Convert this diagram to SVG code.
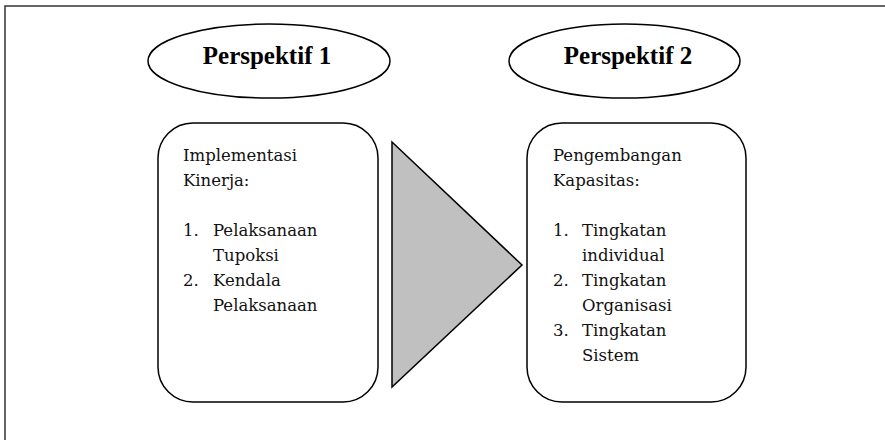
<svg xmlns="http://www.w3.org/2000/svg" width="885" height="440" viewBox="0 0 885 440">
  <style>
    .shape { fill: #ffffff; stroke: #000000; stroke-width: 1.5; }
    .frame { fill: none; stroke: #333333; stroke-width: 1.5; }
    .title { font-family: "Liberation Serif", "Times New Roman", serif; font-weight: bold; font-size: 25px; fill: #000000; text-anchor: middle; }
    .body { font-family: "DejaVu Serif", "Liberation Serif", serif; font-size: 16.5px; fill: #111111; }
    .arrow { fill: #c0c0c0; stroke: #000000; stroke-width: 1.5; stroke-linejoin: miter; }
  </style>
  <rect x="0" y="0" width="885" height="440" fill="#ffffff"/>
  <path class="frame" d="M5,440 L5,6 L885,6"/>

  <g id="perspektif1">
    <ellipse class="shape" cx="269" cy="61" rx="121" ry="37"/>
    <text class="title" x="267" y="64">Perspektif 1</text>
  </g>

  <g id="perspektif2">
    <ellipse class="shape" cx="624.5" cy="61" rx="115.5" ry="37"/>
    <text class="title" x="628" y="64">Perspektif 2</text>
  </g>

  <g id="implementasi">
    <rect class="shape" x="158" y="123" width="220" height="279" rx="35" ry="35"/>
    <text class="body" x="183" y="161">Implementasi</text>
    <text class="body" x="183" y="186">Kinerja:</text>
    <text class="body" x="183" y="236">1.</text>
    <text class="body" x="213" y="236">Pelaksanaan</text>
    <text class="body" x="213" y="261">Tupoksi</text>
    <text class="body" x="183" y="286">2.</text>
    <text class="body" x="213" y="286">Kendala</text>
    <text class="body" x="213" y="311">Pelaksanaan</text>
  </g>

  <g id="pengembangan">
    <rect class="shape" x="527" y="123" width="219" height="279" rx="35" ry="35"/>
    <text class="body" x="553" y="161">Pengembangan</text>
    <text class="body" x="553" y="186">Kapasitas:</text>
    <text class="body" x="553" y="236">1.</text>
    <text class="body" x="582" y="236">Tingkatan</text>
    <text class="body" x="582" y="261">individual</text>
    <text class="body" x="553" y="286">2.</text>
    <text class="body" x="582" y="286">Tingkatan</text>
    <text class="body" x="582" y="311">Organisasi</text>
    <text class="body" x="553" y="336">3.</text>
    <text class="body" x="582" y="336">Tingkatan</text>
    <text class="body" x="582" y="361">Sistem</text>
  </g>

  <g id="connectors">
    <polygon class="arrow" points="392,142 522,265 392,387"/>
  </g>
</svg>
